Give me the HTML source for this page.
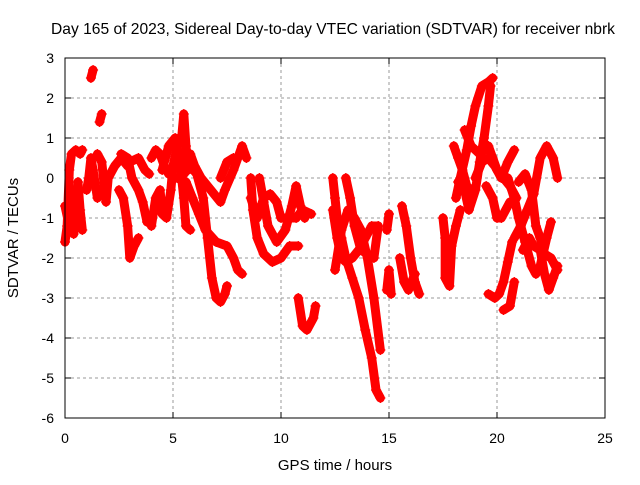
<!DOCTYPE html>
<html><head><meta charset="utf-8"><style>
body{margin:0;background:#fff}
svg text{font-family:"Liberation Sans",sans-serif;font-size:14px;fill:#000}
</style></head><body>
<svg id="chart" width="640" height="480">
<text x="333" y="34" text-anchor="middle" style="font-size:15.6px">Day 165 of 2023, Sidereal Day-to-day VTEC variation (SDTVAR) for receiver nbrk</text>
<text x="335" y="470" text-anchor="middle" style="font-size:15px">GPS time / hours</text>
<text transform="translate(18,238) rotate(-90)" text-anchor="middle" style="font-size:15px">SDTVAR / TECUs</text>
<g id="grid"></g><g id="ticks"></g><g id="marks"></g>
<rect x="65" y="58" width="540" height="360" fill="none" stroke="#000" stroke-width="1"/>
</svg>
<script>
const xTicks=[0,5,10,15,20,25];
const yTicks=[3,2,1,0,-1,-2,-3,-4,-5,-6];
const tracks=[
[[0,-1.6],[0.1,-1.2],[0.2,0.2],[0.3,0.6],[0.5,0.7],[0.7,0.6],[0.8,0.7]],
[[0,-0.7],[0.2,-1.2],[0.4,-1.4],[0.5,-0.6],[0.6,-0.1],[0.7,-0.8],[0.8,-1.3]],
[[1.2,2.5],[1.3,2.7]],
[[1.6,1.4],[1.7,1.6]],
[[1.0,-0.3],[1.1,0],[1.2,0.5],[1.3,0.2],[1.5,-0.5],[1.6,-0.3]],
[[1.5,0.6],[1.7,0.4],[1.9,-0.6],[2.0,0],[2.3,0.3],[2.6,0.5],[2.9,0.3]],
[[2.5,-0.3],[2.7,-0.5],[2.9,-1.2],[3.0,-2.0],[3.2,-1.7],[3.4,-1.5]],
[[2.6,0.6],[2.9,0.5],[3.1,0],[3.4,-0.3],[3.6,-0.6],[3.8,-1.1]],
[[3.0,0.4],[3.4,0.5],[3.7,0.2],[3.9,0.1]],
[[4.0,0.5],[4.2,0.7],[4.4,0.6],[4.6,0.3],[4.8,0.1]],
[[4.0,-1.2],[4.2,-0.5],[4.4,-0.3],[4.5,-0.9],[4.7,-1.0],[4.9,-0.3],[5.0,0.3],[5.2,0.8],[5.4,1.0],[5.5,1.6],[5.6,0.8],[5.7,0.2]],
[[4.5,0.2],[4.8,0.8],[5.1,1.0],[5.3,0.5],[5.5,-0.5],[5.6,-1.2],[5.8,-1.3]],
[[5.5,0.1],[5.8,0.3],[6.1,0.1],[6.4,-0.5],[6.6,-1.5],[6.8,-2.5],[7.0,-3.0],[7.2,-3.1],[7.4,-2.9],[7.5,-2.7]],
[[5.8,0.6],[6.0,0.3],[6.3,0],[6.6,-0.2],[6.9,-0.4],[7.2,-0.6],[7.4,-0.3],[7.8,0.2],[8.0,0.5],[8.2,0.8],[8.4,0.5]],
[[5.2,0],[5.6,-0.1],[5.9,-0.5],[6.2,-0.9],[6.5,-1.3],[7.0,-1.6],[7.5,-1.7],[7.8,-2.0],[8.0,-2.3],[8.2,-2.4]],
[[7.2,0],[7.5,0.4],[7.8,0.5]],
[[8.6,0],[8.7,-0.8],[8.9,-1.5],[9.2,-1.9],[9.6,-2.1],[10.0,-2.0],[10.4,-1.7],[10.8,-1.7]],
[[8.6,-0.5],[8.9,-1.0],[9.2,-0.5],[9.5,-0.4],[9.8,-0.6],[10.0,-1.0],[10.3,-1.0],[10.7,-1.0],[11.0,-0.8],[11.4,-0.9]],
[[9.0,0],[9.2,-0.6],[9.4,-1.2],[9.8,-1.6],[10.2,-1.3],[10.5,-0.7],[10.7,-0.2],[10.9,-0.7],[11.1,-1.0]],
[[10.8,-3.0],[11.0,-3.7],[11.2,-3.8],[11.5,-3.5],[11.6,-3.2]],
[[12.4,0],[12.5,-0.5],[12.6,-1.0],[12.8,-1.5],[13.0,-2.0],[13.3,-2.5],[13.6,-3.0],[13.9,-3.8],[14.2,-4.5],[14.4,-5.3],[14.6,-5.5]],
[[12.4,-0.8],[12.6,-1.5],[12.8,-2.0],[13.0,-2.1],[13.3,-2.0],[13.6,-1.8],[13.9,-1.5],[14.2,-1.2],[14.5,-1.2]],
[[12.5,-2.3],[12.8,-1.3],[13.1,-0.8],[13.4,-1.0],[13.7,-1.3],[14.0,-2.0],[14.3,-3.0],[14.6,-4.3]],
[[13.0,0],[13.2,-0.5],[13.4,-1.2],[13.7,-1.8],[14.0,-1.9],[14.3,-2.0],[14.5,-1.2]],
[[14.9,-1.3],[15.0,-0.9]],
[[14.9,-2.8],[15.0,-2.3],[15.1,-2.9]],
[[15.6,-0.7],[15.8,-1.2],[16.0,-2.0],[16.2,-2.6],[16.4,-2.9]],
[[15.5,-2.0],[15.7,-2.6],[15.9,-2.8],[16.2,-2.4]],
[[17.5,-1.0],[17.6,-1.5],[17.6,-2.5],[17.8,-2.7],[17.9,-1.7],[18.1,-1.2],[18.3,-0.8]],
[[18.0,0.8],[18.2,0.5],[18.4,0.2],[18.6,-0.2],[18.8,-0.3]],
[[18.1,-0.5],[18.3,0],[18.6,0.7],[18.8,1.3],[19.0,1.8],[19.3,2.3],[19.6,2.4],[19.8,2.5]],
[[18.2,-0.1],[18.5,-0.3],[18.7,-0.8],[19.0,-0.3],[19.2,0.4],[19.4,1.0],[19.6,1.8],[19.7,2.3]],
[[18.5,1.2],[18.8,0.8],[19.2,0.6],[19.6,0.8],[19.8,0.5],[20.0,0.2],[20.3,0],[20.6,-0.2],[20.9,-0.5]],
[[19.0,0],[19.3,0.4],[19.6,0.5],[19.9,0.3],[20.2,0],[20.5,0.4],[20.8,0.7]],
[[19.5,-0.2],[19.8,-0.5],[20.0,-1.0],[20.2,-1.0],[20.6,-0.6]],
[[19.6,-2.9],[19.9,-3.0],[20.1,-2.9],[20.3,-2.6],[20.5,-2.1],[20.7,-1.6]],
[[20.3,-3.3],[20.6,-3.2],[20.8,-2.6]],
[[20.5,0],[20.8,-0.5],[21.0,-1.0],[21.3,-1.6],[21.6,-2.2],[21.8,-2.4],[22.0,-2.2],[22.3,-1.5],[22.5,-1.1]],
[[20.8,-1.5],[21.1,-1.2],[21.4,-0.8],[21.7,-0.4],[22.0,0.5],[22.3,0.8],[22.6,0.5],[22.8,0]],
[[21.0,-0.1],[21.3,0.1],[21.6,-0.3],[21.8,-1.2],[22.0,-1.5],[22.2,-1.9],[22.5,-2.0],[22.8,-2.3]],
[[21.2,-1.8],[21.5,-1.5],[21.7,-1.7],[22.0,-1.8],[22.2,-2.4],[22.4,-2.8],[22.6,-2.5],[22.8,-2.2]]
];
const NS='http://www.w3.org/2000/svg';
const X=v=>65+v*21.6, Y=v=>58+(3-v)*40;
function mk(t,a,p){const e=document.createElementNS(NS,t);for(const k in a)e.setAttribute(k,a[k]);p.appendChild(e);return e;}
const G=document.getElementById('grid'),T=document.getElementById('ticks'),M=document.getElementById('marks');
xTicks.forEach(v=>{
 if(v>0&&v<25){const l=mk('line',{x1:X(v),x2:X(v),y1:58,y2:418,stroke:'#999','stroke-dasharray':'3,3'},G);
 
 }
 mk('line',{x1:X(v),x2:X(v),y1:418,y2:412,stroke:'#000'},T);
 mk('line',{x1:X(v),x2:X(v),y1:58,y2:64,stroke:'#000'},T);
 const t=mk('text',{x:X(v),y:443,'text-anchor':'middle'},T);t.textContent=v;
 
 
});
yTicks.forEach(v=>{
 if(v<3&&v>-6){const l=mk('line',{x1:65,x2:605,y1:Y(v),y2:Y(v),stroke:'#999','stroke-dasharray':'3,3'},G);
 
 }
 mk('line',{x1:65,x2:71,y1:Y(v),y2:Y(v),stroke:'#000'},T);
 mk('line',{x1:605,x2:599,y1:Y(v),y2:Y(v),stroke:'#000'},T);
 const t=mk('text',{x:54,y:Y(v)+5,'text-anchor':'end'},T);t.textContent=v;
 
 
});
tracks.forEach(tr=>{
 const pl=mk('polyline',{points:tr.map(p=>X(p[0])+','+Y(p[1])).join(' '),fill:'none',stroke:'#f00','stroke-width':9,'stroke-linejoin':'round','stroke-linecap':'round'},M);
 
 
 tr.forEach(p=>{
  const c=mk('path',{d:`M${X(p[0])-5},${Y(p[1])}h10M${X(p[0])},${Y(p[1])-5}v10`,stroke:'#f00','stroke-width':1.2},M);
  
  
 });
});
</script>
</body></html>
